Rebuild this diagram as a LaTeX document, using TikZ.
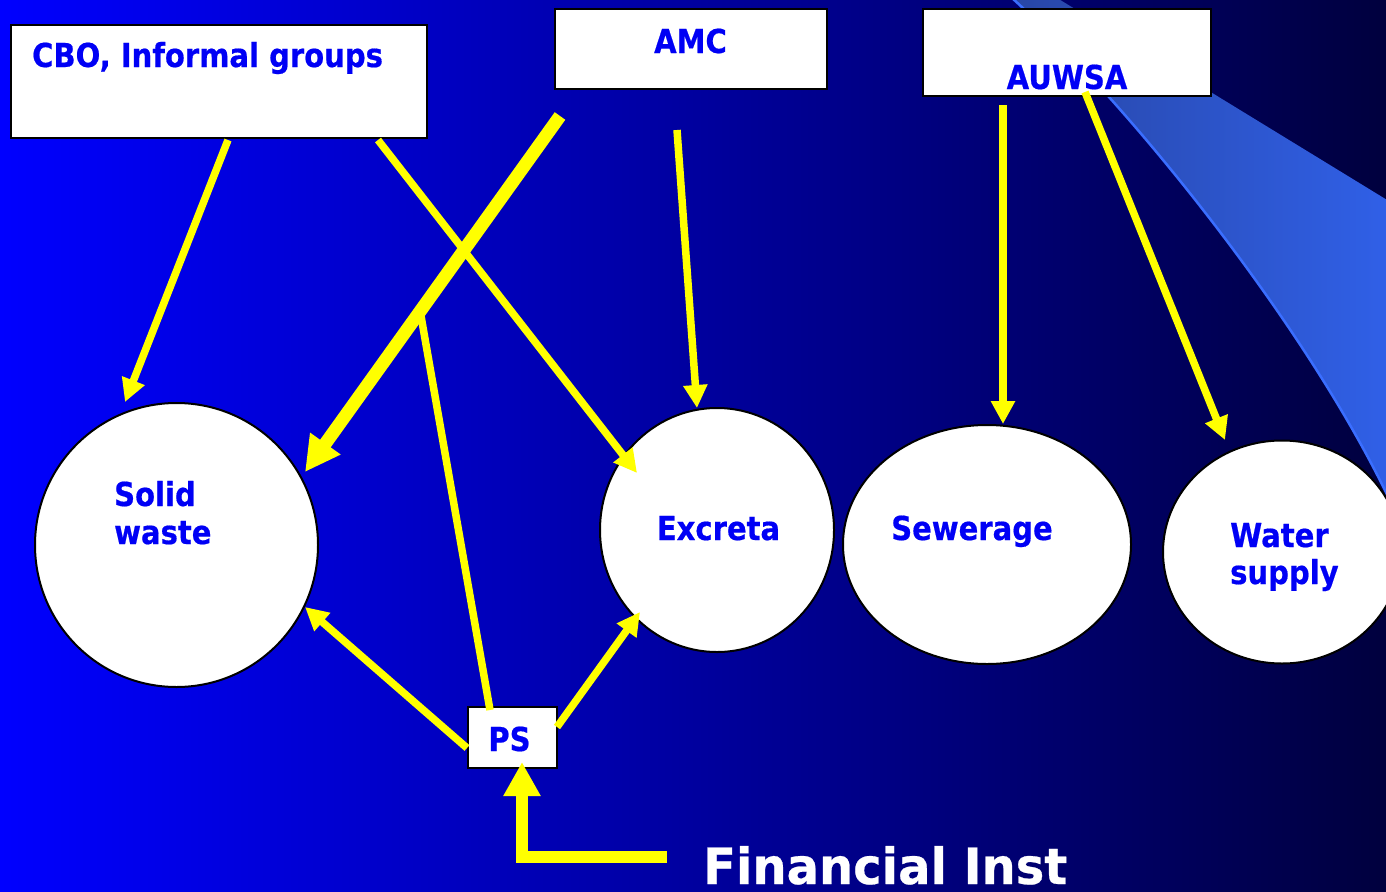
\documentclass[tikz,border=0pt]{standalone}
\usepackage{fontspec}
\newfontfamily\tah[FakeStretch=0.88, BoldFeatures={FakeBold=0.5}]{DejaVu Sans}
\newfontfamily\tahw[FakeStretch=0.96, BoldFeatures={FakeBold=0.5}]{DejaVu Sans}
\usetikzlibrary{arrows.meta,calc,shapes.geometric}
\definecolor{bgl}{RGB}{0,0,255}
\definecolor{bgr}{RGB}{0,0,62}
\definecolor{lblc}{RGB}{0,0,245}
\definecolor{yel}{RGB}{255,255,0}
\definecolor{bandl}{RGB}{40,70,165}
\definecolor{bandr}{RGB}{48,96,232}
\definecolor{bandedge}{RGB}{58,110,255}
\tikzset{
  box/.style={draw=black, line width=2pt, fill=white, rectangle, inner sep=0pt},
  blob/.style={draw=black, line width=2pt, fill=white, ellipse, inner sep=0pt},
  txt/.style={font=\tah\bfseries\fontsize{33}{39}\selectfont, text=lblc, inner sep=0pt, anchor=base west},
  arr/.style={draw=yel, line width=7.5pt, -{Triangle[length=23pt,width=23pt]}},
  bigarr/.style={draw=yel, line width=13pt, -{Triangle[length=35pt,width=35pt]}},
  finarr/.style={draw=yel, line width=12pt, -{Triangle[length=34pt,width=35pt]}},
  plainline/.style={draw=yel, line width=7.5pt},
}
\begin{document}
\begin{tikzpicture}[x=1pt,y=-1pt]
\useasboundingbox (0,0) rectangle (1386,891);
\begin{scope}
\clip (0,0) rectangle (1386,891);
% background
\shade[left color=bgl, right color=bgr] (0,0) rectangle (1386,891);
% swoosh band
\shade[left color=bandl, right color=bandr]
  (1012,-2) .. controls (1130,105) and (1310,330) .. (1392,505) -- (1392,203) -- (1057,-2) -- cycle;
\draw[bandedge, line width=2.5pt] (1012,-2) .. controls (1130,105) and (1310,330) .. (1392,505);
\end{scope}

% boxes
\node[box, minimum width=416pt, minimum height=113pt] (cbo) at (219,81.5) {};
\node[box, minimum width=272pt, minimum height=80pt] (amc) at (691,49) {};
\node[box, minimum width=288pt, minimum height=87pt] (auw) at (1067,52.5) {};
\node[box, minimum width=89pt, minimum height=61pt] (ps) at (512.5,737.5) {};

% circles
\node[blob, minimum width=283pt, minimum height=284pt] (sw) at (176.5,545) {};
\node[blob, minimum width=234pt, minimum height=244pt] (ex) at (717,530) {};
\node[blob, minimum width=288pt, minimum height=239pt] (sew) at (987,544.5) {};
\node[blob, minimum width=238pt, minimum height=223pt] (ws) at (1282,552) {};

% labels
\node[txt] (tcbo) at (32,67) {CBO, Informal groups};
\node[txt, anchor=base] (tamc) at (690.5,53) {AMC};
\node[txt, anchor=base] (tauw) at (1067,89) {AUWSA};
\node[txt, anchor=base] (tps) at (509.5,751) {PS};
\node[txt] (tsw1) at (114,506) {Solid};
\node[txt] (tsw2) at (114,544) {waste};
\node[txt, anchor=base] (tex) at (718.5,540) {Excreta};
\node[txt, anchor=base] (tsew) at (972,540) {Sewerage};
\node[txt] (tws1) at (1230,547) {Water};
\node[txt] (tws2) at (1230,584) {supply};
\node[font=\tahw\bfseries\fontsize{50}{60}\selectfont, text=white, inner sep=0pt, anchor=base west] (fin) at (703,884) {Financial Inst};

% connectors
\draw[arr] ($(cbo.center)+(9,58.5)$) -- ($(sw.center)+(-51.5,-143)$);
\draw[arr] ($(cbo.center)+(159,58.5)$) -- ($(ex.center)+(-80,-57)$);
\draw[bigarr] ($(amc.center)+(-131,67)$) -- ($(sw.center)+(128.5,-73)$);
\draw[arr] ($(amc.center)+(-14,81)$) -- ($(ex.center)+(-20,-122)$);
\draw[arr] ($(auw.center)+(-64,52.5)$) -- ($(sew.center)+(16,-120.5)$);
\draw[arr] ($(auw.center)+(18,39.5)$) -- ($(ws.center)+(-57,-112)$);
\coordinate (join) at (421,316);
\draw[plainline] ($(ps.center)+(-22.5,-27.5)$) -- (join);
\draw[arr] ($(ps.center)+(-45.5,10.5)$) -- ($(sw.center)+(128.5,62)$);
\draw[arr] ($(ps.center)+(44.5,-10.5)$) -- ($(ex.center)+(-77,82)$);
\draw[finarr] ($(fin.base west)+(-36,-27)$) -| ($(ps.center)+(9.5,24.5)$);
\end{tikzpicture}
\end{document}
